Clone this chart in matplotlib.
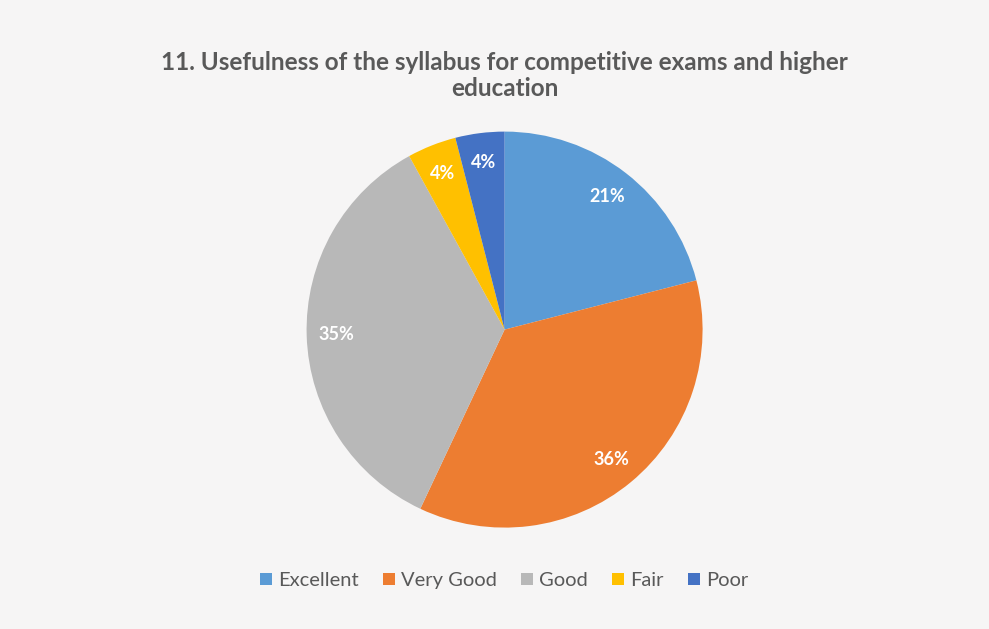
import numpy as np
import matplotlib.pyplot as plt

plt.rcParams['font.family'] = ['Lato', 'DejaVu Sans']

labels = ['Excellent', 'Very Good', 'Good', 'Fair', 'Poor']
shares = [21, 36, 35, 4, 4]
colors = ['#5B9BD5', '#ED7D31', '#B8B8B8', '#FFC000', '#4472C4']

fig = plt.figure(figsize=(9.89, 6.29), dpi=100, facecolor='#f6f5f5')
ax = fig.add_axes([0.310, 0.161, 0.4004, 0.63])

wedges, texts = ax.pie(shares, colors=colors, startangle=90, counterclock=False,
                       wedgeprops=dict(linewidth=0))
for w, v in zip(wedges, shares):
    ang = np.deg2rad((w.theta1 + w.theta2) / 2)
    ax.text(0.85 * np.cos(ang), 0.85 * np.sin(ang), f'{v}%', ha='center', va='center',
            color='white', fontsize=13, fontweight='bold')
ax.set_xlim(-1, 1)
ax.set_ylim(-1, 1)
ax.set_aspect('equal')

fig.text(0.51, 0.88, '11. Usefulness of the syllabus for competitive exams and higher\neducation',
         ha='center', va='center', fontsize=17.5, fontweight='bold', color='#595959',
         linespacing=1.2)

fig.legend(wedges, labels, loc='center', bbox_to_anchor=(0.51, 0.077), ncol=5,
           frameon=False, fontsize=14.5, handlelength=0.6, handleheight=0.6,
           handletextpad=0.3, columnspacing=1.2, labelcolor='#595959')

fig.savefig('out.png', dpi=100, facecolor=fig.get_facecolor())
